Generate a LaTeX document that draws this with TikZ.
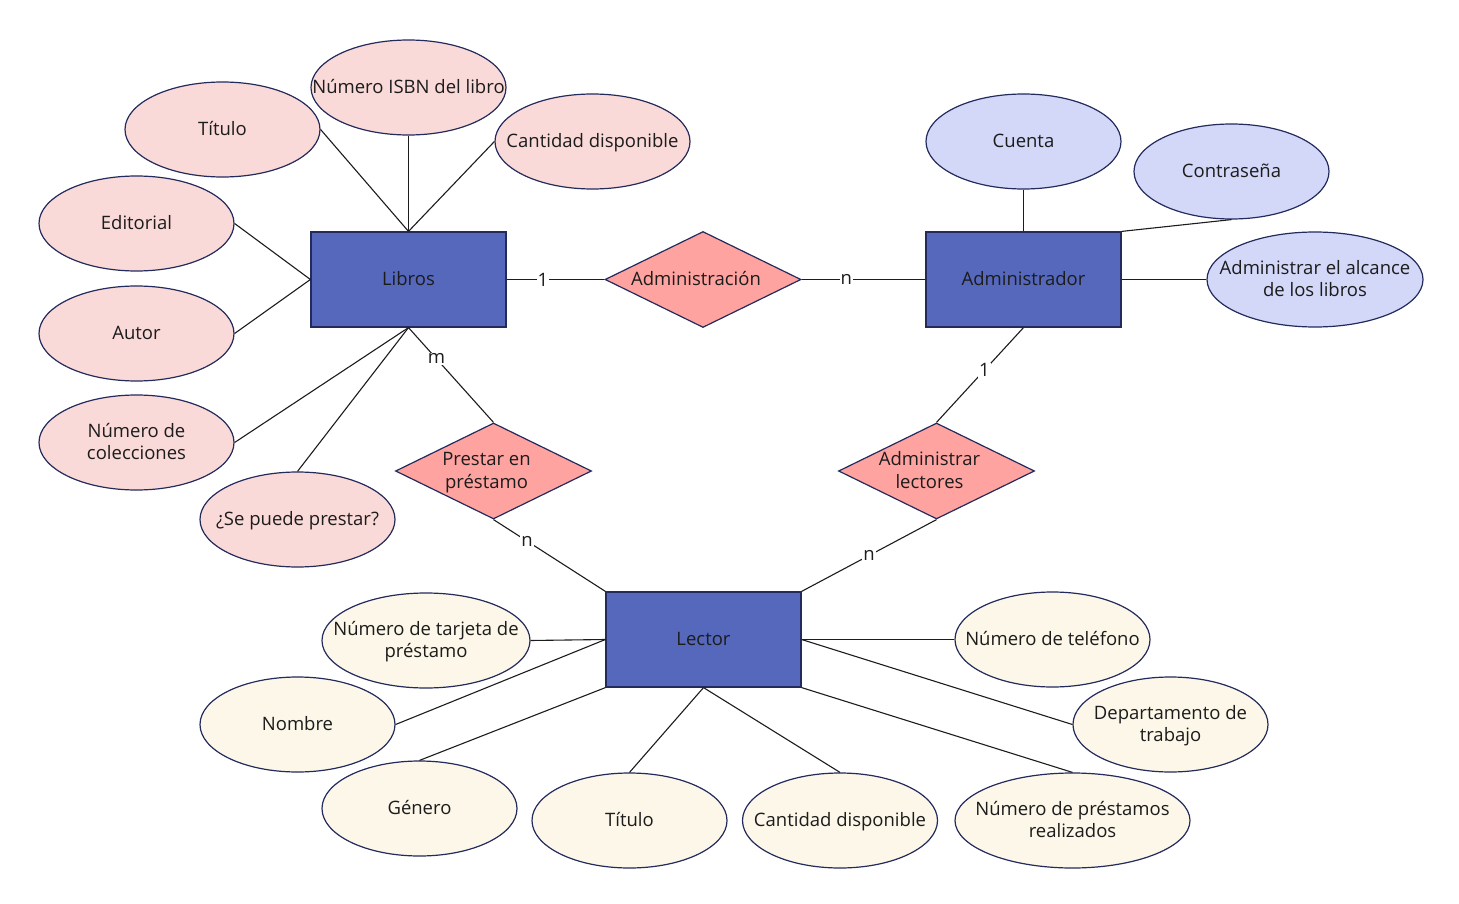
\documentclass[tikz,border=0pt]{standalone}
\usepackage{fontspec}
\setmainfont{Open Sans}
\usetikzlibrary{shapes.geometric}
\definecolor{entfill}{HTML}{5568BC}
\definecolor{bord}{HTML}{232A5C}
\definecolor{relfill}{HTML}{FFA3A0}
\definecolor{pinkfill}{HTML}{FADAD8}
\definecolor{lavfill}{HTML}{D3D7F8}
\definecolor{creamfill}{HTML}{FCF7E8}
\definecolor{txt}{HTML}{1C1C1C}
\newcommand{\tx}[1]{\raisebox{-0.32em}[0pt][0pt]{\makebox[0pt]{\begin{tabular}{@{}c@{}}#1\end{tabular}}}}
\newcommand{\txd}[1]{\raisebox{-0.32em}[0pt][0pt]{\makebox[0pt]{\hspace{-14pt}\makebox[0pt]{\begin{tabular}{@{}c@{}}#1\end{tabular}}}}}
\tikzset{
  base/.style={draw=bord, line width=1.2pt, inner sep=0pt, text=txt, font=\fontsize{18.5}{22.5}\selectfont},
  entity/.style={base, rectangle, fill=entfill, minimum width=195pt, minimum height=95pt},
  rel/.style={base, diamond, fill=relfill, minimum width=196pt, minimum height=96pt},
  attr/.style={base, ellipse, minimum width=195pt, minimum height=95pt},
  pinkattr/.style={attr, fill=pinkfill},
  lavattr/.style={attr, fill=lavfill},
  creamattr/.style={attr, fill=creamfill},
  conn/.style={draw=txt, line width=1.1pt},
  card/.style={fill=white, inner sep=1pt, text=txt, font=\fontsize{18.5}{22.5}\selectfont}
}
\begin{document}
\begin{tikzpicture}[x=1pt,y=-1pt]
\useasboundingbox (0,0) rectangle (1459,904);
% entities
\node[entity] (libros) at (408.5,279.5) {\tx{Libros}};
\node[entity] (admin) at (1023.5,279.5) {\tx{Administrador}};
\node[entity] (lector) at (703.5,639.5) {\tx{Lector}};
% relationships
\node[rel] (administracion) at (703,279.5) {\txd{Administración}};
\node[rel] (prestar) at (493.5,471) {\txd{Prestar en\\préstamo}};
\node[rel] (admlect) at (936.5,471) {\txd{Administrar\\lectores}};
% Libros attributes
\node[pinkattr] (titulo1) at (222.5,129.5) {\tx{Título}};
\node[pinkattr] (isbn) at (408.5,87.5) {\tx{Número ISBN del libro}};
\node[pinkattr] (cant1) at (592.5,141.5) {\tx{Cantidad disponible}};
\node[pinkattr] (editorial) at (136.5,223.5) {\tx{Editorial}};
\node[pinkattr] (autor) at (136.5,333.5) {\tx{Autor}};
\node[pinkattr] (colecciones) at (136.5,442.5) {\tx{Número de\\colecciones}};
\node[pinkattr] (sepuede) at (297.5,519.5) {\tx{¿Se puede prestar?}};
% Administrador attributes
\node[lavattr] (cuenta) at (1023.5,141.5) {\tx{Cuenta}};
\node[lavattr] (contrasena) at (1231.5,171.5) {\tx{Contraseña}};
\node[lavattr, minimum width=216pt] (alcance) at (1315,279.5) {\tx{Administrar el alcance\\de los libros}};
% Lector attributes
\node[creamattr, minimum width=208pt] (tarjeta) at (426,640.5) {\tx{Número de tarjeta de\\préstamo}};
\node[creamattr] (nombre) at (297.5,724.5) {\tx{Nombre}};
\node[creamattr] (genero) at (419.5,808.5) {\tx{Género}};
\node[creamattr] (titulo2) at (629.5,820.5) {\tx{Título}};
\node[creamattr] (cant2) at (840,820.5) {\tx{Cantidad disponible}};
\node[creamattr, minimum width=235pt] (prestamos) at (1072.5,820.5) {\tx{Número de préstamos\\realizados}};
\node[creamattr] (telefono) at (1052.5,639.5) {\tx{Número de teléfono}};
\node[creamattr] (departamento) at (1170.5,724.5) {\tx{Departamento de\\trabajo}};
% connectors Libros
\draw[conn] (titulo1.east) -- (libros.north);
\draw[conn] (isbn.south) -- (libros.north);
\draw[conn] (cant1.west) -- (libros.north);
\draw[conn] (editorial.east) -- (libros.west);
\draw[conn] (autor.east) -- (libros.west);
\draw[conn] (colecciones.east) -- (libros.south);
\draw[conn] (sepuede.north) -- (libros.south);
% connectors Administrador
\draw[conn] (cuenta.south) -- (admin.north);
\draw[conn] (contrasena.south) -- (admin.north east);
\draw[conn] (admin.east) -- (alcance.west);
% connectors Lector
\draw[conn] (tarjeta.east) -- (lector.west);
\draw[conn] (nombre.east) -- (lector.west);
\draw[conn] (genero.north) -- (lector.south west);
\draw[conn] (titulo2.north) -- (lector.south);
\draw[conn] (cant2.north) -- (lector.south);
\draw[conn] (prestamos.north) -- (lector.south east);
\draw[conn] (telefono.west) -- (lector.east);
\draw[conn] (departamento.west) -- (lector.east);
% relationships
\draw[conn] (libros.east) -- node[card, pos=0.37] {1} (administracion.west);
\draw[conn] (administracion.east) -- node[card, pos=0.36] {n} (admin.west);
\draw[conn] (libros.south) -- node[card, pos=0.33] {m} (prestar.north);
\draw[conn] (prestar.south) -- node[card, pos=0.3] {n} (lector.north west);
\draw[conn] (admin.south) -- node[card, pos=0.45] {1} (admlect.north);
\draw[conn] (admlect.south) -- node[card, pos=0.5] {n} (lector.north east);
\end{tikzpicture}
\end{document}
